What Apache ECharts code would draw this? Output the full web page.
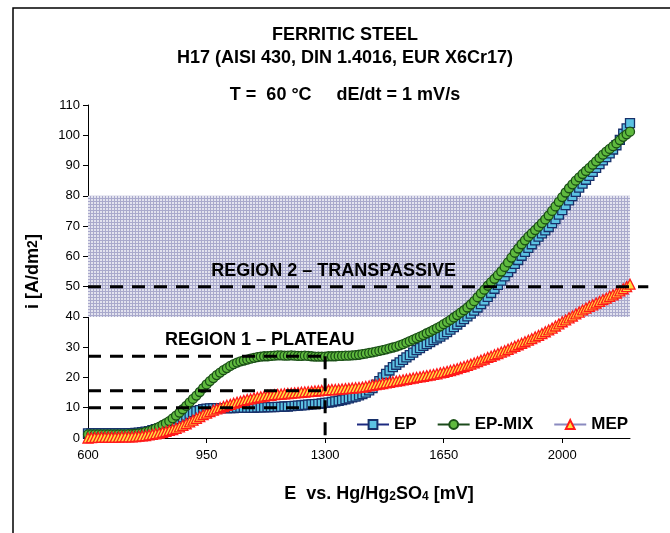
<!DOCTYPE html>
<html>
<head>
<meta charset="utf-8">
<script src="https://cdn.jsdelivr.net/npm/echarts@6/dist/echarts.min.js"></script>
<style>html,body{margin:0;padding:0;background:#fff}#c{width:670px;height:533px}</style>
</head>
<body>
<div id="c"></div>
<script>
// Potential E [mV]
var E = [600,610,620,630,640,650,660,670,680,690,
         700,710,720,730,740,750,760,770,780,790,
         800,810,820,830,840,850,860,870,880,890,
         900,910,920,930,940,950,960,970,980,990,
         1000,1010,1020,1030,1040,1050,1060,1070,1080,1090,
         1100,1110,1120,1130,1140,1150,1160,1170,1180,1190,
         1200,1210,1220,1230,1240,1250,1260,1270,1280,1290,
         1300,1310,1320,1330,1340,1350,1360,1370,1380,1390,
         1400,1410,1420,1430,1440,1450,1460,1470,1480,1490,
         1500,1510,1520,1530,1540,1550,1560,1570,1580,1590,
         1600,1610,1620,1630,1640,1650,1660,1670,1680,1690,
         1700,1710,1720,1730,1740,1750,1760,1770,1780,1790,
         1800,1810,1820,1830,1840,1850,1860,1870,1880,1890,
         1900,1910,1920,1930,1940,1950,1960,1970,1980,1990,
         2000,2010,2020,2030,2040,2050,2060,2070,2080,2090,
         2100,2110,2120,2130,2140,2150,2160,2170,2180,2190,
         2200];
// current density i [A/dm2]
var EP = [1.5,1.5,1.5,1.5,1.5,1.5,1.5,1.5,1.5,1.5,
          1.5,1.5,1.6,1.6,1.7,1.8,1.9,2.1,2.3,2.6,
          2.9,3.2,3.6,4.0,4.5,5.0,5.6,6.2,6.8,7.4,
          8.0,8.5,8.9,9.2,9.5,9.7,9.8,9.9,9.9,9.9,
          9.9,9.9,9.9,9.9,10.0,10.0,10.0,10.0,10.0,10.0,
          10.1,10.1,10.1,10.2,10.2,10.2,10.3,10.3,10.4,10.4,
          10.5,10.6,10.7,10.8,10.9,11.0,11.1,11.2,11.3,11.4,
          11.6,11.7,11.9,12.1,12.3,12.5,12.8,13.1,13.4,13.7,
          14.1,14.5,15.0,15.7,16.5,17.6,18.8,20.0,21.2,22.3,
          23.4,24.2,25.0,25.8,26.6,27.4,28.2,29.0,29.7,30.4,
          31.0,31.7,32.3,32.9,33.5,34.2,35.0,35.8,36.6,37.5,
          38.4,39.3,40.2,41.1,42.1,43.1,44.2,45.4,46.6,47.9,
          49.3,50.6,52.0,53.4,54.8,56.1,57.5,58.8,60.2,61.5,
          62.8,64.0,65.3,66.5,67.6,68.6,69.7,71.0,72.3,73.8,
          75.3,76.9,78.5,79.9,81.3,82.7,84.0,85.3,86.6,87.9,
          89.2,90.5,91.7,92.8,94.0,95.3,96.7,98.5,100.5,102.3,
          104.0];
var EPMIX = [1.2,1.2,1.2,1.2,1.2,1.2,1.2,1.2,1.2,1.2,
          1.2,1.2,1.3,1.3,1.4,1.5,1.7,2.0,2.3,2.7,
          3.2,3.7,4.3,4.9,5.6,6.5,7.4,8.4,9.5,10.6,
          11.8,12.9,14.0,15.2,16.5,17.7,18.8,19.8,20.8,21.6,
          22.4,23.1,23.8,24.4,24.9,25.3,25.6,25.9,26.2,26.5,
          26.7,26.9,27.0,27.0,27.1,27.2,27.3,27.3,27.2,27.2,
          27.3,27.2,27.1,27.1,27.2,27.1,27.0,26.9,26.9,26.9,
          26.9,27.0,27.0,27.0,27.1,27.1,27.2,27.2,27.3,27.4,
          27.5,27.7,27.9,28.1,28.3,28.5,28.8,29.0,29.3,29.6,
          29.9,30.2,30.6,31.0,31.5,32.0,32.5,33.0,33.5,34.0,
          34.6,35.1,35.7,36.3,36.9,37.6,38.3,39.0,39.8,40.6,
          41.4,42.2,43.1,44.1,45.2,46.5,47.8,49.0,50.3,51.5,
          52.6,53.8,55.0,56.5,58.0,59.6,61.2,62.6,64.0,65.3,
          66.5,67.6,68.7,69.8,71.0,72.2,73.5,75.0,76.5,78.0,
          79.6,81.1,82.5,83.8,85.0,86.1,87.2,88.2,89.2,90.3,
          91.4,92.5,93.6,94.6,95.5,96.4,97.3,98.4,99.5,100.3,
          101.2];
var MEP = [0.0,0.1,0.2,0.2,0.3,0.3,0.3,0.3,0.3,0.3,
          0.4,0.4,0.4,0.4,0.5,0.6,0.7,0.8,1.0,1.2,
          1.4,1.6,1.9,2.2,2.5,2.8,3.2,3.7,4.2,4.7,
          5.3,5.9,6.5,7.1,7.7,8.2,8.7,9.2,9.6,10.0,
          10.4,10.8,11.1,11.5,11.8,12.1,12.4,12.7,12.9,13.2,
          13.4,13.6,13.8,14.0,14.1,14.3,14.4,14.5,14.6,14.7,
          14.8,14.9,15.0,15.1,15.2,15.3,15.4,15.5,15.6,15.7,
          15.8,15.9,16.0,16.0,16.1,16.2,16.3,16.4,16.5,16.6,
          16.7,16.8,17.0,17.2,17.4,17.6,17.8,18.0,18.2,18.4,
          18.6,18.8,19.0,19.2,19.4,19.6,19.8,20.0,20.2,20.4,
          20.6,20.8,21.0,21.2,21.5,21.7,22.0,22.3,22.6,22.9,
          23.3,23.6,24.0,24.4,24.8,25.2,25.7,26.1,26.6,27.0,
          27.5,27.9,28.4,28.8,29.3,29.8,30.3,30.8,31.3,31.8,
          32.3,32.8,33.4,33.9,34.5,35.1,35.7,36.3,37.0,37.7,
          38.4,39.0,39.7,40.3,41.0,41.6,42.3,42.9,43.5,44.0,
          44.6,45.1,45.7,46.2,46.8,47.3,47.9,48.6,49.3,50.0,
          50.8];
var xTicks = [600,950,1300,1650,2000];
var seriesNames = ['EP','EP-MIX','MEP'];
var titleLines = ['FERRITIC STEEL','H17 (AISI 430, DIN 1.4016, EUR X6Cr17)','T =  60 °C     dE/dt = 1 mV/s'];
var regionLabels = ['REGION 2 – TRANSPASSIVE','REGION 1 – PLATEAU'];
var region2 = [40, 80];
var plateauLevels = [27, 15.6, 10];
var transLevel = 50;
var transEnd = 2254;
var plateauEnd = 1300;

function pairs(xs, ys){ var out=[]; for (var i=0;i<ys.length;i++) out.push([xs[i], ys[i]]); return out; }

var FONT = 'Liberation Sans, Arial, sans-serif';
var chart = echarts.init(document.getElementById('c'), null, {renderer:'canvas'});

// dotted pattern for the shaded transpassive band
var pc = document.createElement('canvas'); pc.width = 3; pc.height = 3;
var pctx = pc.getContext('2d');
pctx.fillStyle = '#e2e2ee'; pctx.fillRect(0,0,3,3);
pctx.fillStyle = '#a9a9cc'; pctx.fillRect(0,0,3,1); pctx.fillRect(0,0,1,3);

var dash = {color:'#000', width:3, type:[13,9]};
function dashSeries(points){
  return {type:'line', silent:true, clip:false, z:5, symbol:'none', data:points,
          lineStyle:dash, emphasis:{disabled:true}, tooltip:{show:false}};
}

var series = [
  {
    type:'line', name:'helper', silent:true, clip:false, data:[], z:1,
    markArea:{silent:true, itemStyle:{color:{image:pc, repeat:'repeat'}},
      data:[[{coord:[600,region2[0]]},{coord:[2200,region2[1]]}]]}
  },
  {
    name:seriesNames[0], type:'line', data:pairs(E,EP), z:2,
    symbol:'rect', symbolSize:9,
    lineStyle:{color:'#1d2a80', width:2},
    itemStyle:{color:'#5cc2e2', borderColor:'#17306a', borderWidth:1.3}
  },
  {
    name:seriesNames[1], type:'line', data:pairs(E,EPMIX), z:3,
    symbol:'circle', symbolSize:9,
    lineStyle:{color:'#1b4a1b', width:2},
    itemStyle:{color:'#5fba3e', borderColor:'#1a4f16', borderWidth:1.3}
  },
  {
    name:seriesNames[2], type:'line', data:pairs(E,MEP), z:4,
    symbol:'triangle', symbolSize:10,
    lineStyle:{color:'#8a8abf', width:2},
    itemStyle:{color:'#ffe040', borderColor:'#ff1a1a', borderWidth:1.3}
  },
  {
    type:'scatter', silent:true, symbolSize:0, z:6,
    itemStyle:{opacity:1},
    data:[
      {value:[1325,55.2], label:{show:true, formatter:regionLabels[0]}},
      {value:[1107,32.3], label:{show:true, formatter:regionLabels[1]}}
    ],
    label:{position:'inside', fontSize:18, fontWeight:'bold', color:'#000', fontFamily:FONT, opacity:1}
  }
];
plateauLevels.forEach(function(v){ series.push(dashSeries([[600,v],[plateauEnd,v]])); });
series.push(dashSeries([[plateauEnd,plateauLevels[0]],[plateauEnd,0]]));

var option = {
  animation:false,
  textStyle:{fontFamily:FONT},
  grid:{left:88, right:40, top:105, bottom:95, containLabel:false},
  graphic:[
    {id:'frame', type:'rect', shape:{x:13,y:8,width:800,height:700}, style:{fill:'none', stroke:'#000', lineWidth:1.5}, silent:true},
    {id:'t1', type:'text', x:345, y:35, style:{text:titleLines[0], font:'bold 18px '+FONT, fill:'#000', align:'center', verticalAlign:'middle'}},
    {id:'t2', type:'text', x:345, y:58, style:{text:titleLines[1], font:'bold 18px '+FONT, fill:'#000', align:'center', verticalAlign:'middle'}},
    {id:'t3', type:'text', x:345, y:95, style:{text:titleLines[2], font:'bold 18px '+FONT, fill:'#000', align:'center', verticalAlign:'middle'}}
  ],
  legend:{
    data:seriesNames, left:351, top:411, itemWidth:32, itemHeight:11, itemGap:20,
    textStyle:{fontSize:17, fontWeight:'bold', color:'#000', fontFamily:FONT}
  },
  xAxis:{
    type:'value', min:600, max:2200, interval:350,
    name:'E  vs. Hg/Hg{s|2}SO{s|4} [mV]', nameLocation:'middle', nameGap:47,
    nameTextStyle:{fontSize:18, fontWeight:'bold', color:'#000', padding:[0,0,0,40],
      rich:{s:{fontSize:12, fontWeight:'bold', color:'#000', padding:[5,0,0,0]}}},
    axisLine:{lineStyle:{color:'#000', width:1}},
    axisTick:{customValues:xTicks, length:5, lineStyle:{color:'#000'}},
    axisLabel:{customValues:xTicks, fontSize:13, color:'#000', margin:11,
      formatter:function(v){ return String(v); }},
    splitLine:{show:false}
  },
  yAxis:{
    type:'value', min:0, max:110, interval:10,
    name:'i [A/dm{s|2}]', nameLocation:'middle', nameGap:46,
    nameTextStyle:{fontSize:18, fontWeight:'bold', color:'#000',
      rich:{s:{fontSize:14, fontWeight:'bold', color:'#000'}}},
    axisLine:{show:true, lineStyle:{color:'#000', width:1}},
    axisTick:{show:true, length:5, lineStyle:{color:'#000'}},
    axisLabel:{fontSize:13, color:'#000', margin:8},
    splitLine:{show:false}
  },
  series:series
};
chart.setOption(option);

// transpassive level line runs past the plot edge: place it with the chart's own scales
var pA = chart.convertToPixel({xAxisIndex:0, yAxisIndex:0}, [600, transLevel]);
var pB = chart.convertToPixel({xAxisIndex:0, yAxisIndex:0}, [transEnd, transLevel]);
chart.setOption({graphic:[{id:'trans', type:'line', z:50, silent:true,
  shape:{x1:pA[0], y1:pA[1], x2:pB[0], y2:pB[1]},
  style:{stroke:'#000', lineWidth:3, lineDash:[13,9]}}]});
</script>
</body>
</html>
